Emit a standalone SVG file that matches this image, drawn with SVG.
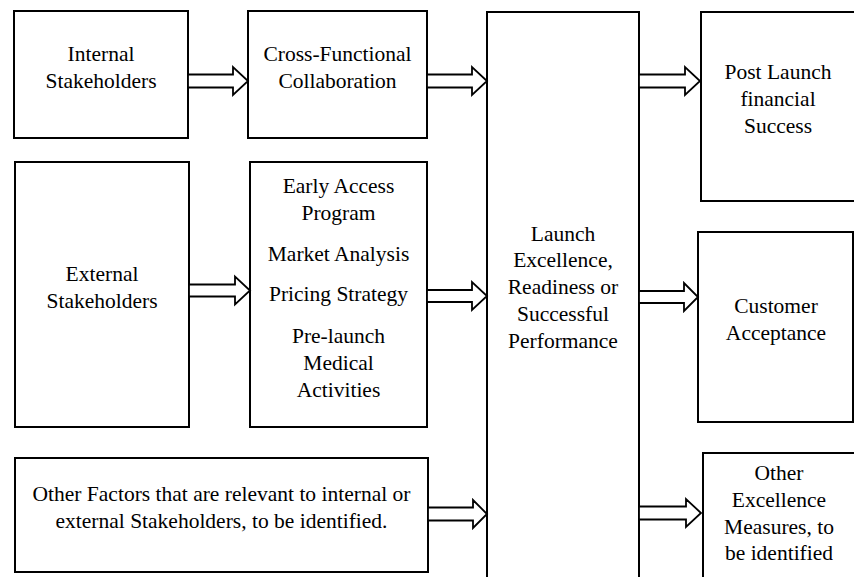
<svg xmlns="http://www.w3.org/2000/svg" width="854" height="577" viewBox="0 0 854 577">
<style>
  .box { fill: #ffffff; stroke: #000000; stroke-width: 2; }
  .arr { fill: #ffffff; stroke: #000000; stroke-width: 1.8; stroke-linejoin: miter; }
  text { font-family: "Liberation Serif", "Times New Roman", "DejaVu Serif", serif; font-size: 21.5px; fill: #000000; text-anchor: middle; }
</style>
<rect x="0" y="0" width="854" height="577" fill="#ffffff"/>
<g id="internal">
  <rect class="box" x="14" y="11" width="174" height="127"/>
  <text x="101" y="61">Internal</text>
  <text x="101" y="88">Stakeholders</text>
</g>
<g id="crossfunctional">
  <rect class="box" x="248" y="11" width="179" height="127"/>
  <text x="337.5" y="61">Cross-Functional</text>
  <text x="337.5" y="88">Collaboration</text>
</g>
<g id="external">
  <rect class="box" x="15" y="162" width="174" height="265"/>
  <text x="102" y="281">External</text>
  <text x="102" y="308">Stakeholders</text>
</g>
<g id="activities">
  <rect class="box" x="250" y="162" width="177" height="265"/>
  <text x="338.5" y="193">Early Access</text>
  <text x="338.5" y="220">Program</text>
  <text x="338.5" y="261">Market Analysis</text>
  <text x="338.5" y="301">Pricing Strategy</text>
  <text x="338.5" y="343">Pre-launch</text>
  <text x="338.5" y="370">Medical</text>
  <text x="338.5" y="397">Activities</text>
</g>
<g id="otherfactors">
  <rect class="box" x="15" y="458" width="413" height="114"/>
  <text x="221.5" y="501">Other Factors that are relevant to internal or</text>
  <text x="221.5" y="528">external Stakeholders, to be identified.</text>
</g>
<g id="launch">
  <rect class="box" x="487" y="12" width="152" height="600"/>
  <text x="563" y="241">Launch</text>
  <text x="563" y="267">Excellence,</text>
  <text x="563" y="294">Readiness or</text>
  <text x="563" y="321">Successful</text>
  <text x="563" y="348">Performance</text>
</g>
<g id="postlaunch">
  <rect class="box" x="701" y="12" width="160" height="189"/>
  <text x="778" y="79">Post Launch</text>
  <text x="778" y="106">financial</text>
  <text x="778" y="133">Success</text>
</g>
<g id="customer">
  <rect class="box" x="698" y="232" width="155" height="190"/>
  <text x="776" y="313">Customer</text>
  <text x="776" y="340">Acceptance</text>
</g>
<g id="otherexcellence">
  <rect class="box" x="703" y="453" width="160" height="160"/>
  <text x="779" y="480">Other</text>
  <text x="779" y="507">Excellence</text>
  <text x="779" y="534">Measures, to</text>
  <text x="779" y="560">be identified</text>
</g>
<g id="connectors">
  <polygon class="arr" points="188,74.5 233,74.5 233,67 248,81 233,95 233,87.5 188,87.5"/>
  <polygon class="arr" points="427,74.5 472,74.5 472,67 487,81 472,95 472,87.5 427,87.5"/>
  <polygon class="arr" points="639,74.5 685,74.5 685,67 700,81 685,95 685,87.5 639,87.5"/>
  <polygon class="arr" points="189,284.5 235,284.5 235,276.5 250,290.5 235,304.5 235,296.5 189,296.5"/>
  <polygon class="arr" points="427,290 472,290 472,282 487,296 472,310 472,302 427,302"/>
  <polygon class="arr" points="639,291 684,291 684,283 698,297 684,311 684,303 639,303"/>
  <polygon class="arr" points="428,507.5 473,507.5 473,500 487,514 473,528 473,520.5 428,520.5"/>
  <polygon class="arr" points="639,506.5 686,506.5 686,499 701,513 686,527 686,519.5 639,519.5"/>
</g>
</svg>
